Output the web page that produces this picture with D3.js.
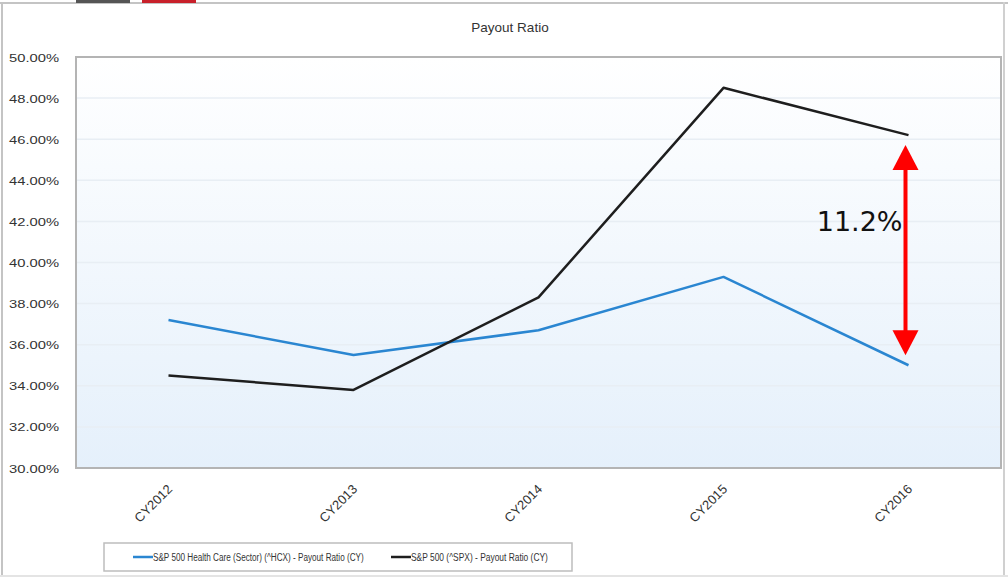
<!DOCTYPE html>
<html>
<head>
<meta charset="utf-8">
<script src="https://cdn.jsdelivr.net/npm/d3@7/dist/d3.min.js"></script>
<style>
	body { margin: 0; background: #fff; }
	svg { display: block; font-family: "Liberation Sans", Arial, sans-serif; }
</style>
</head>
<body>
<svg id="chart" width="1008" height="577"></svg>
<script>
// chart values
const years = ["CY2012", "CY2013", "CY2014", "CY2015", "CY2016"];
const hcxRatio = [37.2, 35.5, 36.7, 39.3, 35.0];
const spxRatio = [34.5, 33.8, 38.3, 48.5, 46.2];
const yTicks = [30, 32, 34, 36, 38, 40, 42, 44, 46, 48, 50];
const seriesNames = ["S&P 500 Health Care (Sector) (^HCX) - Payout Ratio (CY)", "S&P 500 (^SPX) - Payout Ratio (CY)"];
const seriesColors = ["#2a86d1", "#1e1e1e"];
const gapLabel = "11.2%";

const svg = d3.select("#chart");
const plot = { left: 76, top: 57, right: 1001, bottom: 468 };

// frame round the screenshot
svg.append("rect").attr("x", 0).attr("y", 2).attr("width", 1008).attr("height", 2).attr("fill", "#c4c4c4");
svg.append("rect").attr("x", 76).attr("y", 0).attr("width", 54).attr("height", 3).attr("fill", "#555");
svg.append("rect").attr("x", 142).attr("y", 0).attr("width", 54).attr("height", 3).attr("fill", "#c8202a");
svg.append("rect").attr("x", 1).attr("y", 2).attr("width", 2).attr("height", 575).attr("fill", "#c4c4c4");
svg.append("rect").attr("x", 1003).attr("y", 2).attr("width", 2).attr("height", 575).attr("fill", "#d0d0d0");
svg.append("rect").attr("x", 0).attr("y", 575).attr("width", 1008).attr("height", 2).attr("fill", "#e4e4e4");

svg.append("text")
	.attr("x", 510).attr("y", 32)
	.attr("text-anchor", "middle")
	.attr("font-size", 13.5).attr("fill", "#333")
	.text("Payout Ratio");

let x = d3.scalePoint().domain(years).range([plot.left, plot.right]).padding(0.5);
let y = d3.scaleLinear().domain([30, 50]).range([plot.bottom, plot.top]);

// plot background, white at the top fading to pale blue
let grad = svg.append("defs").append("linearGradient")
	.attr("id", "bg").attr("x1", 0).attr("y1", 0).attr("x2", 0).attr("y2", 1);
grad.append("stop").attr("offset", "0%").attr("stop-color", "#ffffff");
grad.append("stop").attr("offset", "100%").attr("stop-color", "#e5f0fb");
svg.append("rect")
	.attr("x", plot.left).attr("y", plot.top)
	.attr("width", plot.right - plot.left).attr("height", plot.bottom - plot.top)
	.attr("fill", "url(#bg)");

// faint gridlines
svg.append("g").selectAll("line")
	.data(yTicks.slice(1, -1))
	.enter()
	.append("line")
	.attr("x1", plot.left).attr("x2", plot.right)
	.attr("y1", d => y(d)).attr("y2", d => y(d))
	.attr("stroke", "#e8eef4").attr("stroke-width", 1.5);

svg.append("rect")
	.attr("x", plot.left).attr("y", plot.top)
	.attr("width", plot.right - plot.left).attr("height", plot.bottom - plot.top)
	.attr("fill", "none").attr("stroke", "#b4b4b4").attr("stroke-width", 2);

let yAxis = svg.append("g")
	.attr("transform", "translate(" + (plot.left - 14) + ",0)")
	.call(d3.axisLeft(y).tickValues(yTicks).tickSize(0).tickFormat(d => d.toFixed(2) + "%"));
yAxis.select(".domain").remove();
yAxis.selectAll("text")
	.attr("font-size", 11.5).attr("fill", "#333").attr("dy", "0.35em")
	.attr("textLength", 50).attr("lengthAdjust", "spacingAndGlyphs");

let xAxis = svg.append("g")
	.attr("transform", "translate(0," + plot.bottom + ")")
	.call(d3.axisBottom(x).tickSize(0));
xAxis.select(".domain").remove();
xAxis.selectAll("text")
	.attr("font-size", 13).attr("fill", "#333")
	.attr("text-anchor", "end")
	.attr("transform", "translate(4,22) rotate(-45)")
	.attr("dy", 0).attr("x", 0).attr("y", 0);

let line = d3.line().x((d, i) => x(years[i])).y(d => y(d));
[hcxRatio, spxRatio].forEach(function(values, i) {
	svg.append("path")
		.datum(values)
		.attr("d", line)
		.attr("fill", "none")
		.attr("stroke", seriesColors[i])
		.attr("stroke-width", 2.5)
		.attr("stroke-linejoin", "round");
});

// red gap annotation on the last year
let last = years.length - 1;
let ax = x(years[last]) - 3;
let aTop = y(spxRatio[last]) + 10;
let aBot = y(hcxRatio[last]) - 10;
let head = 25;
svg.append("line")
	.attr("x1", ax).attr("x2", ax)
	.attr("y1", aTop + head - 2).attr("y2", aBot - head + 2)
	.attr("stroke", "#ff0000").attr("stroke-width", 4);
svg.append("path")
	.attr("d", "M" + ax + "," + aTop + "L" + (ax + 13) + "," + (aTop + head) + "L" + (ax - 13) + "," + (aTop + head) + "Z")
	.attr("fill", "#ff0000");
svg.append("path")
	.attr("d", "M" + ax + "," + aBot + "L" + (ax + 13) + "," + (aBot - head) + "L" + (ax - 13) + "," + (aBot - head) + "Z")
	.attr("fill", "#ff0000");
svg.append("text")
	.attr("x", ax - 3).attr("y", 231)
	.attr("text-anchor", "end")
	.attr("font-family", "'DejaVu Sans', sans-serif")
	.attr("font-size", 27).attr("fill", "#111")
	.text(gapLabel);

// legend; texts squeezed horizontally to the narrow face of the original
let legend = svg.append("g");
legend.append("rect")
	.attr("x", 104).attr("y", 543).attr("width", 468).attr("height", 28)
	.attr("fill", "#fff").attr("stroke", "#bdbdbd").attr("stroke-width", 1.5);
let legendX = [133, 391];
let legendLen = [211, 137];
seriesNames.forEach(function(name, i) {
	legend.append("line")
		.attr("x1", legendX[i]).attr("x2", legendX[i] + 20)
		.attr("y1", 557).attr("y2", 557)
		.attr("stroke", seriesColors[i]).attr("stroke-width", 2.5);
	let t = legend.append("text")
		.attr("x", 0).attr("y", 0)
		.attr("font-size", 11).attr("fill", "#333")
		.text(name);
	let sx = legendLen[i] / t.node().getComputedTextLength();
	t.attr("transform", "translate(" + (legendX[i] + 20) + ",561) scale(" + sx + ",1)");
});
</script>
</body>
</html>
